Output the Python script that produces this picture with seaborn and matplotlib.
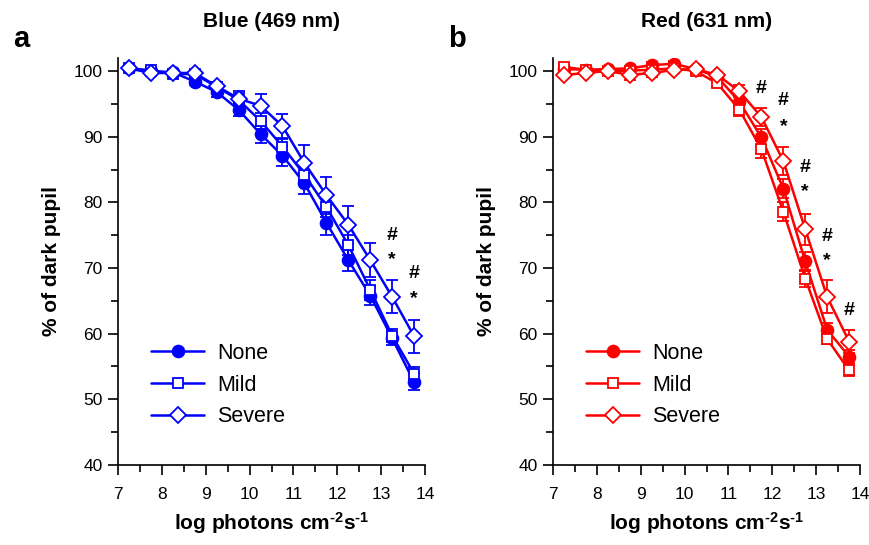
import numpy as np
import pandas as pd
import matplotlib
matplotlib.use("Agg")
import matplotlib.pyplot as plt
import seaborn as sns
from matplotlib.ticker import MultipleLocator

# Datos
log_fotones = [7.25, 7.75, 8.25, 8.75, 9.25, 9.75, 10.25, 10.75, 11.25, 11.75, 12.25, 12.75, 13.25, 13.75]
grupos = ['None', 'Mild', 'Severe']

azul_none = [100.4, 100.0, 99.8, 98.4, 96.8, 94.1, 90.4, 87.1, 82.9, 76.9, 71.2, 65.8, 59.3, 52.6]
azul_mild = [100.4, 100.1, 99.6, 99.5, 97.6, 95.6, 92.4, 88.5, 84.2, 79.3, 73.5, 66.7, 59.7, 53.9]
azul_severe = [100.4, 99.7, 99.7, 99.7, 97.7, 95.8, 94.7, 91.6, 86.0, 81.1, 76.6, 71.2, 65.6, 59.6]
azul_none_err = [0.3, 0.3, 0.4, 0.6, 0.7, 1.0, 1.3, 1.5, 1.6, 1.8, 1.6, 1.5, 1.0, 1.2]
azul_mild_err = [0.3, 0.4, 0.4, 0.5, 0.8, 1.0, 1.2, 1.3, 1.5, 1.6, 1.5, 1.5, 1.0, 1.0]
azul_severe_err = [0.3, 0.4, 0.4, 0.5, 0.7, 1.1, 1.8, 1.9, 2.7, 2.8, 2.9, 2.6, 2.5, 2.5]

rojo_none = [100.3, 100.2, 100.3, 100.4, 100.9, 101.1, 100.3, 99.1, 95.3, 89.9, 82.1, 71.0, 60.6, 56.5]
rojo_mild = [100.6, 100.2, 100.0, 100.05, 100.2, 100.4, 100.0, 98.1, 94.1, 88.1, 78.6, 68.4, 59.2, 54.4]
rojo_severe = [99.4, 99.7, 100.0, 99.4, 99.7, 100.15, 100.3, 99.4, 96.9, 93.0, 86.3, 75.9, 65.6, 58.8]
rojo_none_err = [0.3, 0.4, 0.3, 0.4, 0.4, 0.4, 0.4, 0.5, 0.8, 1.2, 1.5, 1.4, 1.0, 1.0]
rojo_mild_err = [0.3, 0.3, 0.3, 0.3, 0.4, 0.4, 0.4, 0.6, 0.9, 1.3, 1.4, 1.3, 0.8, 0.8]
rojo_severe_err = [0.3, 0.3, 0.3, 0.8, 0.6, 0.5, 0.4, 0.5, 0.9, 1.3, 2.1, 2.4, 2.5, 1.8]

# Marcas de significancia (x, y, símbolo)
azul_marcas = [(13.25, 74.9, '#'), (13.25, 71.3, '*'), (13.75, 69.1, '#'), (13.75, 65.4, '*')]
rojo_marcas = [(11.75, 97.4, '#'), (12.25, 95.5, '#'), (12.25, 91.6, '*'), (12.75, 85.3, '#'),
               (12.75, 81.7, '*'), (13.25, 74.8, '#'), (13.25, 71.1, '*'), (13.75, 63.5, '#')]

sns.set_theme(style="ticks", rc={'text.color': 'black', 'axes.labelcolor': 'black',
                                 'xtick.color': 'black', 'ytick.color': 'black',
                                 'axes.edgecolor': 'black'})
plt.rcParams['font.family'] = ['Liberation Sans', 'DejaVu Sans']
plt.rcParams['mathtext.fontset'] = 'custom'
plt.rcParams['mathtext.rm'] = 'Liberation Sans:bold'
plt.rcParams['mathtext.default'] = 'rm'

estilos = {
    'None': dict(marker='o', markersize=8.5, markerfacecolor=None),
    'Mild': dict(marker='s', markersize=7, markerfacecolor='white'),
    'Severe': dict(marker='D', markersize=8.2, markerfacecolor='white'),
}


def panel(ax, color, valores, errores, marcas, titulo, letra):
    for g, v, e in zip(grupos, valores, errores):
        df = pd.DataFrame({'x': log_fotones, 'y': v})
        ax.errorbar(log_fotones, v, yerr=e, fmt='none', ecolor=color,
                    elinewidth=1.3, capsize=4.5, capthick=1.3, zorder=2)
        est = estilos[g]
        mfc = color if est['markerfacecolor'] is None else est['markerfacecolor']
        sns.lineplot(data=df, x='x', y='y', ax=ax, color=color, linewidth=1.8,
                     marker=est['marker'], markersize=est['markersize'],
                     markerfacecolor=mfc, markeredgecolor=color, markeredgewidth=1.3,
                     label=g, zorder=3)
    for x, y, s in marcas:
        ax.text(x, y, s, ha='center', va='center', fontsize=14, fontweight='bold', color='black')

    ax.set_xlim(7, 14)
    ax.set_ylim(40, 102)
    ax.xaxis.set_major_locator(MultipleLocator(1))
    ax.xaxis.set_minor_locator(MultipleLocator(0.5))
    ax.yaxis.set_major_locator(MultipleLocator(10))
    ax.yaxis.set_minor_locator(MultipleLocator(5))
    ax.tick_params(which='major', length=7, width=1.2, labelsize=12.5, pad=4)
    ax.tick_params(which='minor', length=5, width=1.2)
    ax.tick_params(axis='x', pad=9)
    for s in ['left', 'bottom']:
        ax.spines[s].set_linewidth(1.2)
    sns.despine(ax=ax)
    ax.set_xlabel(r'log photons cm$^{\text{-2}}$s$^{\text{-1}}$', fontsize=15, fontweight='bold',
                  labelpad=6)
    ax.set_ylabel('% of dark pupil', fontsize=15, fontweight='bold', labelpad=9)
    ax.set_title(titulo, fontsize=15, fontweight='bold', pad=22)
    ax.text(-0.342, 1.027, letra, transform=ax.transAxes, fontsize=21, fontweight='bold',
            va='baseline')
    ax.legend(loc='lower left', bbox_to_anchor=(0.045, 0.045), frameon=False,
              fontsize=15.5, handlelength=2.45, handletextpad=0.6, labelspacing=0.5)


fig = plt.figure(figsize=(8.7, 5.45), dpi=100)
ax1 = fig.add_axes([0.1356, 0.1468, 0.353, 0.747])
ax2 = fig.add_axes([0.6356, 0.1468, 0.353, 0.747])

panel(ax1, '#0000ff', [azul_none, azul_mild, azul_severe],
      [azul_none_err, azul_mild_err, azul_severe_err], azul_marcas, 'Blue (469 nm)', 'a')
panel(ax2, '#ff0000', [rojo_none, rojo_mild, rojo_severe],
      [rojo_none_err, rojo_mild_err, rojo_severe_err], rojo_marcas, 'Red (631 nm)', 'b')

fig.savefig('out.png', dpi=100)
